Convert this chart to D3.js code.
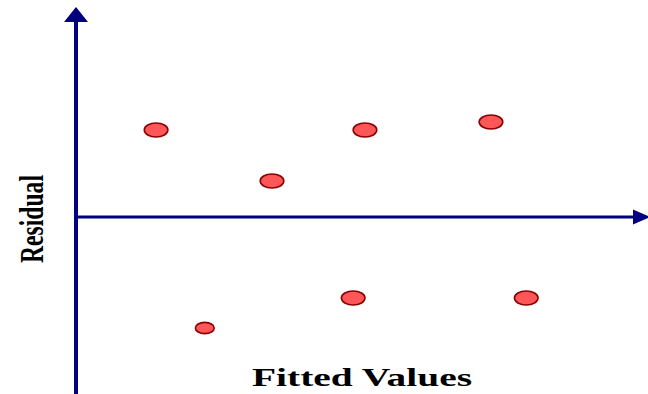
<!DOCTYPE html>
<html lang="en">
  <head>
    <meta charset="utf-8">
    <title>Residual plot</title>
    <script type="text/javascript" src="https://cdn.jsdelivr.net/npm/d3@7"></script>
    <style>
      body { margin: 0; background: #fff; }
    </style>
  </head>
  <body>
    <script type="text/javascript">
      var width = 648;
      var height = 394;

      // fitted values and residuals
      var fitted = [1.43, 3.5, 5.16, 7.41, 4.95, 8.04, 2.3];
      var residuals = [4.35, 1.8, 4.35, 4.75, -4.05, -4.05, -5.55];
      var weights = [1, 1, 1, 1, 1, 1, 0.8];

      var xScale = d3.scaleLinear()
                     .domain([0, 10])
                     .range([76, 636]);
      var yScale = d3.scaleLinear()
                     .domain([-6, 6])
                     .range([337, 97]);
      var rxScale = d3.scaleLinear().domain([0, 1]).range([0, 11.8]);
      var ryScale = d3.scaleLinear().domain([0, 1]).range([0, 7]);

      var svg = d3.select("body")
            .append("svg")
            .attr("width", width)
            .attr("height", height);

      var axisColor = "#000080";
      var x0 = xScale(0);
      var y0 = yScale(0);

      // vertical axis with arrow
      svg.append("line")
         .attr("x1", x0).attr("x2", x0)
         .attr("y1", height).attr("y2", 20)
         .attr("stroke", axisColor)
         .attr("stroke-width", 4);
      svg.append("path")
         .attr("d", "M" + x0 + ",7L" + (x0 - 12) + ",22L" + (x0 + 12) + ",22Z")
         .attr("fill", axisColor);

      // horizontal axis with arrow
      svg.append("line")
         .attr("x1", x0).attr("x2", 636)
         .attr("y1", y0).attr("y2", y0)
         .attr("stroke", axisColor)
         .attr("stroke-width", 3);
      svg.append("path")
         .attr("d", "M633," + (y0 - 7.5) + "L650," + y0 + "L633," + (y0 + 7.5) + "Z")
         .attr("fill", axisColor);

      svg.selectAll("ellipse")
         .data(fitted)
         .enter()
         .append("ellipse")
         .attr("cx", function(d) { return xScale(d); })
         .attr("cy", function(d, i) { return yScale(residuals[i]); })
         .attr("rx", function(d, i) { return rxScale(weights[i]); })
         .attr("ry", function(d, i) { return ryScale(weights[i]); })
         .attr("fill", "#ff5757")
         .attr("stroke", "#8b0000")
         .attr("stroke-width", 1.6);

      svg.append("text")
         .text("Fitted Values")
         .attr("x", 252)
         .attr("y", 386)
         .attr("textLength", 220)
         .attr("lengthAdjust", "spacingAndGlyphs")
         .attr("font-family", "'Liberation Serif', serif")
         .attr("font-weight", "bold")
         .attr("font-size", "25px")
         .attr("fill", "#000");

      svg.append("text")
         .text("Residual")
         .attr("transform", "translate(43,263) rotate(-90)")
         .attr("textLength", 88)
         .attr("lengthAdjust", "spacingAndGlyphs")
         .attr("font-family", "'Liberation Serif', serif")
         .attr("font-weight", "bold")
         .attr("font-size", "33px")
         .attr("fill", "#000");
    </script>
  </body>
</html>
